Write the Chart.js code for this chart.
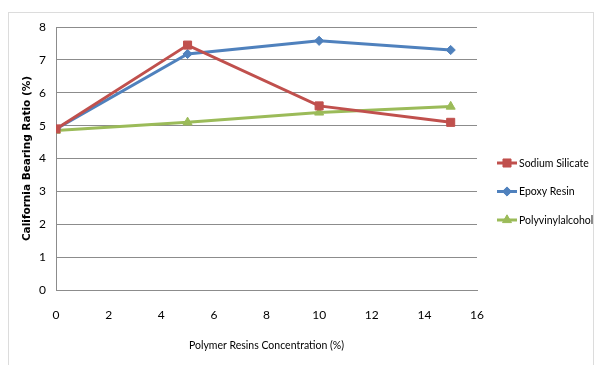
<!DOCTYPE html>
<html>
<head>
<meta charset="utf-8">
<script src="https://cdn.jsdelivr.net/npm/chart.js@4/dist/chart.umd.min.js"></script>
<style>
  html, body { margin: 0; padding: 0; background: #ffffff; }
  #wrap { width: 596px; height: 365px; position: relative; }
</style>
</head>
<body>
<div id="wrap"><canvas id="cbr"></canvas></div>
<script>
// Polymer resin concentration (%) at each test point
const concentration = [0, 5, 10, 15];

// California Bearing Ratio (%) for each stabiliser
const sodiumSilicate   = [4.9, 7.45, 5.6, 5.1];
const epoxyResin       = [4.9, 7.18, 7.58, 7.3];
const polyvinylalcohol = [4.85, 5.1, 5.4, 5.58];

const seriesNames = ['Sodium Silicate', 'Epoxy Resin', 'Polyvinylalcohol'];
const xTicks = [0, 2, 4, 6, 8, 10, 12, 14, 16];
const yTicks = [0, 1, 2, 3, 4, 5, 6, 7, 8];

const bodyFont = "Lato, 'Liberation Sans', sans-serif";

function toPoints(values) {
  return concentration.map((x, i) => ({ x: x, y: values[i] }));
}

// Legend drawn as line + marker, like an office chart legend
const sideLegend = {
  id: 'sideLegend',
  afterDraw(chart) {
    const ctx = chart.ctx;
    const area = chart.chartArea;
    const x0 = area.right + 20;
    const len = 20;
    const yStart = area.top + 136;
    const gap = 28.5;
    chart.data.datasets.forEach((ds, i) => {
      const y = yStart + i * gap;
      ctx.save();
      ctx.strokeStyle = ds.borderColor;
      ctx.lineWidth = 3;
      ctx.beginPath();
      ctx.moveTo(x0, y);
      ctx.lineTo(x0 + len, y);
      ctx.stroke();
      ctx.fillStyle = ds.backgroundColor;
      ctx.strokeStyle = ds.borderColor;
      ctx.lineWidth = 1;
      Chart.helpers.drawPoint(ctx, {
        pointStyle: ds.pointStyle,
        radius: ds.pointRadius,
        rotation: 0,
        borderWidth: 1
      }, x0 + len / 2, y);
      ctx.fillStyle = '#000000';
      ctx.font = '10.5px ' + bodyFont;
      ctx.textBaseline = 'middle';
      ctx.textAlign = 'left';
      ctx.fillText(ds.label, x0 + len + 2, y + 0.5);
      ctx.restore();
    });
  },
  beforeDraw(chart) {
    const ctx = chart.ctx;
    ctx.save();
    ctx.strokeStyle = '#dcdcdc';
    ctx.lineWidth = 1;
    ctx.strokeRect(8.5, 12.5, 585, 360);
    ctx.restore();
  }
};

const colors = ['#C0504D', '#4F81BD', '#9BBB59'];
const styles = ['rect', 'rectRot', 'triangle'];
const radii = [5.7, 4.6, 5.2];
const values = [sodiumSilicate, epoxyResin, polyvinylalcohol];

new Chart(document.getElementById('cbr'), {
  type: 'line',
  data: {
    datasets: seriesNames.map((name, i) => ({
      label: name,
      data: toPoints(values[i]),
      borderColor: colors[i],
      backgroundColor: colors[i],
      borderWidth: 3,
      pointStyle: styles[i],
      pointRadius: radii[i],
      pointBorderWidth: 1,
      tension: 0
    }))
  },
  options: {
    responsive: true,
    maintainAspectRatio: false,
    animation: false,
    layout: { padding: { left: 8, right: 119, top: 27, bottom: 8 } },
    plugins: {
      legend: { display: false },
      tooltip: { enabled: false }
    },
    scales: {
      x: {
        type: 'linear',
        min: 0,
        max: 16,
        afterBuildTicks: (s) => { s.ticks = xTicks.map(v => ({ value: v })); },
        afterFit: (s) => { s.height = 67; },
        grid: { display: false, drawTicks: false },
        border: { display: true, color: '#8c8c8c', width: 1 },
        ticks: { color: '#000000', padding: 18, font: { family: bodyFont, size: 12 } },
        title: {
          display: true,
          text: 'Polymer Resins Concentration (%)',
          color: '#000000',
          padding: { top: 0, bottom: 5 },
          font: { family: bodyFont, size: 10.5 }
        }
      },
      y: {
        min: 0,
        max: 8,
        afterBuildTicks: (s) => { s.ticks = yTicks.map(v => ({ value: v })); },
        afterFit: (s) => { s.width = 48; },
        grid: { color: '#8c8c8c', lineWidth: 1, drawTicks: false },
        border: { display: true, color: '#8c8c8c', width: 1 },
        ticks: { color: '#000000', padding: 10, font: { family: bodyFont, size: 12 } },
        title: {
          display: true,
          text: 'California Bearing Ratio (%)',
          color: '#000000',
          padding: { top: 13, bottom: 0 },
          font: { family: "'DejaVu Sans', sans-serif", size: 10.5, weight: 'bold' }
        }
      }
    }
  },
  plugins: [sideLegend]
});
</script>
</body>
</html>
